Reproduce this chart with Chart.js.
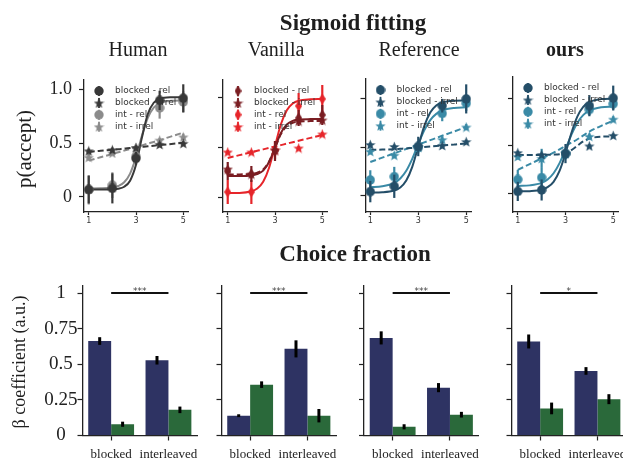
<!DOCTYPE html>
<html><head><meta charset="utf-8">
<script src="https://cdn.jsdelivr.net/npm/chart.js@4.4.1/dist/chart.umd.min.js"></script>
<style>
html,body{margin:0;padding:0;background:#fff;}
#wrap{position:relative;width:623px;height:461px;overflow:hidden;background:#fff;}
#wrap canvas{position:absolute;left:0;top:0;}
.t{position:absolute;font-family:'Liberation Serif','Times New Roman',serif;color:#1e1e1e;white-space:nowrap;line-height:1;transform:translateX(-50%);}
.r{position:absolute;font-family:'Liberation Serif','Times New Roman',serif;color:#1e1e1e;white-space:nowrap;line-height:1;transform:translate(-50%,-50%) rotate(-90deg);}
</style></head>
<body>
<div id="wrap">
<canvas id="t0" width="700" height="461"></canvas>
<canvas id="t1" width="700" height="461"></canvas>
<canvas id="t2" width="700" height="461"></canvas>
<canvas id="t3" width="700" height="461"></canvas>
<canvas id="b0" width="700" height="461"></canvas>
<canvas id="b1" width="700" height="461"></canvas>
<canvas id="b2" width="700" height="461"></canvas>
<canvas id="b3" width="700" height="461"></canvas>
<div class="t" style="left:353px;top:11px;font-size:23px;font-weight:bold;">Sigmoid fitting</div>
<div class="t" style="left:138px;top:39px;font-size:20px;">Human</div>
<div class="t" style="left:276px;top:39px;font-size:20px;">Vanilla</div>
<div class="t" style="left:419px;top:39px;font-size:20px;">Reference</div>
<div class="t" style="left:565px;top:39px;font-size:20px;font-weight:bold;">ours</div>
<div class="t" style="left:355px;top:242px;font-size:23px;font-weight:bold;">Choice fraction</div>
<div class="r" style="left:24px;top:149px;font-size:21px;">p(accept)</div>
<div class="r" style="left:19px;top:362px;font-size:18px;">β coefficient (a.u.)</div>
</div>
<script>
// ---------------- data ----------------
const seriesLabels = ['blocked - rel', 'blocked - irrel', 'int - rel', 'int - irrel'];
const levels = [1, 2, 3, 4, 5];
const fitX = [1, 1.5, 2, 2.25, 2.5, 2.75, 3, 3.25, 3.5, 3.75, 4, 4.5, 5];
const topXTicks = [1, 3, 5];
const topYTicks = [0, 0.5, 1.0];
const topYTickLabels = ['0', '0.5', '1.0'];

// Human
const humanBlockedRel = [0.07, 0.08, 0.36, 0.90, 0.92];
const humanBlockedRelErr = [0.13, 0.14, 0.06, 0.09, 0.13];
const humanBlockedIrrel = [0.43, 0.44, 0.46, 0.49, 0.50];
const humanBlockedIrrelErr = [0.02, 0.02, 0.02, 0.02, 0.02];
const humanIntRel = [0.065, 0.11, 0.38, 0.83, 0.885];
const humanIntRelErr = [0.135, 0.12, 0.07, 0.10, 0.10];
const humanIntIrrel = [0.37, 0.41, 0.46, 0.53, 0.56];
const humanIntIrrelErr = [0.03, 0.02, 0.02, 0.02, 0.03];
const humanBlockedRelFit = [0.07, 0.07, 0.072, 0.077, 0.095, 0.152, 0.30, 0.553, 0.773, 0.878, 0.915, 0.929, 0.93];
const humanBlockedIrrelFit = [0.42, 0.43, 0.44, 0.445, 0.451, 0.456, 0.462, 0.467, 0.472, 0.478, 0.483, 0.494, 0.505];
const humanIntRelFit = [0.08, 0.081, 0.088, 0.102, 0.137, 0.218, 0.371, 0.571, 0.738, 0.832, 0.874, 0.896, 0.90];
const humanIntIrrelFit = [0.34, 0.37, 0.40, 0.416, 0.432, 0.448, 0.465, 0.481, 0.497, 0.513, 0.53, 0.565, 0.60];

// Vanilla
const vanillaBlockedRel = [0.26, 0.23, 0.46, 0.79, 0.82];
const vanillaBlockedRelErr = [0.09, 0.08, 0.10, 0.08, 0.10];
const vanillaBlockedIrrel = [0.28, 0.23, 0.47, 0.76, 0.77];
const vanillaBlockedIrrelErr = [0.02, 0.02, 0.02, 0.02, 0.02];
const vanillaIntRel = [0.05, 0.05, 0.47, 0.91, 0.98];
const vanillaIntRelErr = [0.12, 0.12, 0.09, 0.13, 0.14];
const vanillaIntIrrel = [0.45, 0.45, 0.47, 0.49, 0.63];
const vanillaIntIrrelErr = [0.02, 0.02, 0.02, 0.02, 0.02];
const vanillaBlockedRelFit = [0.21, 0.21, 0.215, 0.229, 0.264, 0.35, 0.495, 0.64, 0.726, 0.761, 0.775, 0.779, 0.78];
const vanillaBlockedIrrelFit = [0.225, 0.226, 0.231, 0.243, 0.276, 0.356, 0.49, 0.629, 0.709, 0.742, 0.755, 0.759, 0.76];
const vanillaIntRelFit = [0.04, 0.041, 0.057, 0.085, 0.152, 0.293, 0.51, 0.727, 0.868, 0.935, 0.963, 0.977, 0.98];
const vanillaIntIrrelFit = [0.39, 0.419, 0.448, 0.462, 0.476, 0.491, 0.505, 0.519, 0.534, 0.548, 0.563, 0.591, 0.62];

// Reference
const referenceBlockedRel = [0.045, 0.10, 0.51, 0.93, 1.0];
const referenceBlockedRelErr = [0.11, 0.12, 0.10, 0.07, 0.15];
const referenceBlockedIrrel = [0.53, 0.51, 0.51, 0.52, 0.56];
const referenceBlockedIrrelErr = [0.02, 0.02, 0.02, 0.02, 0.02];
const referenceIntRel = [0.165, 0.20, 0.50, 0.85, 0.955];
const referenceIntRelErr = [0.10, 0.10, 0.06, 0.08, 0.08];
const referenceIntIrrel = [0.46, 0.42, 0.50, 0.58, 0.71];
const referenceIntIrrelErr = [0.03, 0.03, 0.03, 0.03, 0.03];
const referenceBlockedRelFit = [0.035, 0.038, 0.056, 0.087, 0.159, 0.30, 0.51, 0.72, 0.861, 0.933, 0.964, 0.982, 0.985];
const referenceBlockedIrrelFit = [0.475, 0.478, 0.482, 0.486, 0.49, 0.495, 0.50, 0.505, 0.51, 0.515, 0.52, 0.53, 0.54];
const referenceIntRelFit = [0.092, 0.10, 0.135, 0.18, 0.26, 0.383, 0.533, 0.676, 0.782, 0.846, 0.881, 0.907, 0.913];
const referenceIntIrrelFit = [0.35, 0.395, 0.44, 0.462, 0.485, 0.507, 0.53, 0.552, 0.575, 0.597, 0.62, 0.665, 0.71];

// ours
const oursBlockedRel = [0.025, 0.04, 0.42, 0.92, 1.0];
const oursBlockedRelErr = [0.10, 0.11, 0.10, 0.11, 0.13];
const oursBlockedIrrel = [0.43, 0.41, 0.42, 0.50, 0.61];
const oursBlockedIrrelErr = [0.02, 0.02, 0.02, 0.02, 0.02];
const oursIntRel = [0.15, 0.17, 0.42, 0.88, 0.94];
const oursIntRelErr = [0.10, 0.10, 0.06, 0.06, 0.06];
const oursIntIrrel = [0.39, 0.37, 0.43, 0.60, 0.78];
const oursIntIrrelErr = [0.03, 0.10, 0.03, 0.03, 0.03];
const oursBlockedRelFit = [0.025, 0.028, 0.043, 0.069, 0.125, 0.239, 0.424, 0.638, 0.809, 0.91, 0.959, 0.989, 0.994];
const oursBlockedIrrelFit = [0.405, 0.405, 0.406, 0.407, 0.409, 0.414, 0.428, 0.457, 0.503, 0.548, 0.577, 0.597, 0.60];
const oursIntRelFit = [0.082, 0.088, 0.114, 0.15, 0.215, 0.321, 0.466, 0.619, 0.743, 0.824, 0.869, 0.904, 0.912];
const oursIntIrrelFit = [0.25, 0.31, 0.37, 0.40, 0.43, 0.465, 0.50, 0.535, 0.57, 0.61, 0.65, 0.71, 0.765];

// Choice fraction (beta coefficients)
const barCategories = ['blocked', 'interleaved'];
const barYTicks = [0, 0.25, 0.5, 0.75, 1];
const barYTickLabels = ['0', '0.25', '0.5', '0.75', '1'];
const sigLabels = ['***', '***', '***', '*'];
const humanBetaRel = [0.663, 0.528];
const humanBetaRelErr = [0.027, 0.03];
const humanBetaIrrel = [0.079, 0.18];
const humanBetaIrrelErr = [0.018, 0.023];
const vanillaBetaRel = [0.139, 0.608];
const vanillaBetaRelErr = [0.01, 0.06];
const vanillaBetaIrrel = [0.357, 0.139];
const vanillaBetaIrrelErr = [0.023, 0.047];
const referenceBetaRel = [0.685, 0.336];
const referenceBetaRelErr = [0.046, 0.032];
const referenceBetaIrrel = [0.061, 0.146];
const referenceBetaIrrelErr = [0.018, 0.02];
const oursBetaRel = [0.66, 0.453];
const oursBetaRelErr = [0.049, 0.027];
const oursBetaIrrel = [0.19, 0.255];
const oursBetaIrrelErr = [0.041, 0.035];

// ---------------- styling / layout ----------------
const CW = 700, CH = 461;
const AXC = '#222';
const BLUE = '#2e3363', GREEN = '#2a693a';
const topAreas = [
  {l: 84, r: 188, t: 80, b: 212, ymin: -0.14, ymax: 1.09},
  {l: 223, r: 327, t: 80, b: 212, ymin: -0.15, ymax: 1.17},
  {l: 365.5, r: 471, t: 79, b: 212, ymin: -0.165, ymax: 1.205},
  {l: 513, r: 618, t: 77, b: 212, ymin: -0.19, ymax: 1.22}
];
const botLefts = [82.5, 221.5, 364, 511.5];
const BOT_W = 114.6, BOT_T = 285.9, BOT_B = 435.5;

function makeStar(color, size) {
  const c = document.createElement('canvas'); c.width = size; c.height = size;
  const g = c.getContext('2d'); g.fillStyle = color; g.beginPath();
  const cx = size / 2, cy = size / 2 + 0.6, R = size / 2, r = R * 0.42;
  for (let i = 0; i < 10; i++) {
    const ang = -Math.PI / 2 + i * Math.PI / 5; const rad = i % 2 ? r : R;
    g.lineTo(cx + rad * Math.cos(ang), cy + rad * Math.sin(ang));
  }
  g.closePath(); g.fill(); return c;
}
function makeDiamond(color, w, h) {
  const c = document.createElement('canvas'); c.width = w; c.height = h;
  const g = c.getContext('2d'); g.fillStyle = color; g.beginPath();
  g.moveTo(w / 2, 0); g.lineTo(w, h / 2); g.lineTo(w / 2, h); g.lineTo(0, h / 2); g.closePath(); g.fill();
  return c;
}
function makeCircle(color, size, radius) {
  const c = document.createElement('canvas'); c.width = size; c.height = size;
  const g = c.getContext('2d'); g.fillStyle = color; g.beginPath();
  g.arc(size / 2, size / 2, radius, 0, Math.PI * 2); g.fill(); return c;
}

const errorBarPlugin = {
  id: 'errbars',
  beforeDatasetDraw(chart, args) { drawErr(chart, args, false); },
  afterDatasetDraw(chart, args) { drawErr(chart, args, true); }
};
function drawErr(chart, args, after) {
  const ds = chart.data.datasets[args.index];
  if (!ds.errors || !!ds.errAfter !== after) return;
  const ys = chart.scales.y, ctx = chart.ctx;
  ctx.save();
  ctx.strokeStyle = ds.errColor; ctx.lineWidth = ds.errWidth; ctx.lineCap = 'butt';
  args.meta.data.forEach((el, i) => {
    const raw = ds.data[i]; const v = typeof raw === 'object' ? raw.y : raw; const e = ds.errors[i];
    ctx.beginPath();
    ctx.moveTo(el.x, ys.getPixelForValue(v - e));
    ctx.lineTo(el.x, ys.getPixelForValue(v + e));
    ctx.stroke();
  });
  ctx.restore();
}

const miniLegend = {
  id: 'miniLegend',
  afterDatasetsDraw(chart, args, opts) {
    if (!opts || !opts.items) return;
    const ctx = chart.ctx, a = chart.chartArea;
    ctx.save();
    opts.items.forEach((it, i) => {
      const y = a.top + 11 + i * 11.9;
      const mx = a.left + 15;
      ctx.strokeStyle = it.color; ctx.lineWidth = 1.8;
      ctx.beginPath(); ctx.moveTo(mx, y - 5); ctx.lineTo(mx, y + 5); ctx.stroke();
      ctx.drawImage(it.img, mx - it.img.width / 2, y - it.img.height / 2);
      ctx.fillStyle = '#333'; ctx.font = '9px "DejaVu Sans"';
      ctx.textAlign = 'left'; ctx.textBaseline = 'middle';
      ctx.fillText(it.label, a.left + 31, y);
    });
    ctx.restore();
  }
};

const sigPlugin = {
  id: 'sig',
  afterDatasetsDraw(chart, args, opts) {
    if (!opts || !opts.text) return;
    const ctx = chart.ctx, xs = chart.scales.x, ys = chart.scales.y;
    const x0 = xs.getPixelForValue(0), x1 = xs.getPixelForValue(1), y = ys.getPixelForValue(1.0);
    ctx.save();
    ctx.strokeStyle = '#111'; ctx.lineWidth = 2;
    ctx.beginPath(); ctx.moveTo(x0, y); ctx.lineTo(x1, y); ctx.stroke();
    ctx.fillStyle = '#444'; ctx.font = '9px "DejaVu Sans"'; ctx.textAlign = 'center'; ctx.textBaseline = 'alphabetic';
    ctx.fillText(opts.text, (x0 + x1) / 2, y + 0.5);
    ctx.restore();
  }
};

function axisGrid(len) {
  return {display: true, drawOnChartArea: false, drawTicks: true, tickLength: len, tickColor: AXC, tickWidth: 1.2, offset: false};
}
const axisBorder = {display: true, color: AXC, width: 1.3};

function buildTop(idx, series, showYLabels) {
  const a = topAreas[idx];
  const datasets = [];
  series.forEach(s => {
    datasets.push({
      type: 'line', data: levels.map((x, i) => ({x: x, y: s.pts[i]})),
      errors: s.err, errColor: s.color, errWidth: 2.2,
      showLine: false, pointStyle: s.img, pointRadius: 4, pointHoverRadius: 4,
      borderColor: s.color, backgroundColor: s.color, order: 0, clip: false
    });
  });
  series.forEach(s => {
    datasets.push({
      type: 'line', data: fitX.map((x, i) => ({x: x, y: s.fit[i]})),
      borderColor: s.color, borderWidth: 2, borderDash: s.dash ? [6, 3] : [],
      pointRadius: 0, cubicInterpolationMode: 'monotone', fill: false, order: 1, clip: false
    });
  });
  const WY = 40, HX = 24;
  new Chart(document.getElementById('t' + idx), {
    type: 'line',
    data: {datasets: datasets},
    options: {
      responsive: false, animation: false, devicePixelRatio: 1, events: [],
      layout: {padding: {left: a.l - WY, right: CW - a.r, top: a.t, bottom: CH - a.b - HX}},
      plugins: {legend: {display: false}, tooltip: {enabled: false},
        miniLegend: {items: series.map(s => ({label: s.label, color: s.color, img: s.img}))}},
      scales: {
        x: {type: 'linear', min: 0.8, max: 5.2,
          afterBuildTicks: s => { s.ticks = topXTicks.map(v => ({value: v})); },
          afterFit: s => { s.height = HX; },
          ticks: {callback: v => String(v), font: {family: 'DejaVu Sans', size: 8}, color: '#333', padding: 1, maxRotation: 0, autoSkip: false},
          grid: axisGrid(3), border: axisBorder},
        y: {type: 'linear', min: a.ymin, max: a.ymax,
          afterBuildTicks: s => { s.ticks = topYTicks.map(v => ({value: v})); },
          afterFit: s => { s.width = WY; },
          ticks: {callback: (v, i) => showYLabels ? topYTickLabels[i] : '', font: {family: 'Liberation Serif', size: 18}, color: '#222', padding: 7, autoSkip: false},
          grid: axisGrid(5), border: axisBorder}
      }
    },
    plugins: [errorBarPlugin, miniLegend]
  });
}

function buildBottom(idx, rel, relErr, irrel, irrelErr, showYLabels) {
  const l = botLefts[idx], r = l + BOT_W;
  const WY = 50, HX = 30;
  new Chart(document.getElementById('b' + idx), {
    type: 'bar',
    data: {labels: barCategories, datasets: [
      {data: rel, backgroundColor: BLUE, errors: relErr, errColor: '#000', errWidth: 3, errAfter: true,
        categoryPercentage: 0.8, barPercentage: 1.0, borderWidth: 0},
      {data: irrel, backgroundColor: GREEN, errors: irrelErr, errColor: '#000', errWidth: 3, errAfter: true,
        categoryPercentage: 0.8, barPercentage: 1.0, borderWidth: 0}
    ]},
    options: {
      responsive: false, animation: false, devicePixelRatio: 1, events: [],
      layout: {padding: {left: l - WY, right: CW - r, top: BOT_T, bottom: CH - BOT_B - HX}},
      plugins: {legend: {display: false}, tooltip: {enabled: false}, sig: {text: sigLabels[idx]}},
      scales: {
        x: {type: 'category', offset: true,
          afterFit: s => { s.height = HX; },
          ticks: {font: {family: 'Liberation Serif', size: 13}, color: '#222', padding: 6, maxRotation: 0, autoSkip: false},
          grid: axisGrid(5), border: axisBorder},
        y: {type: 'linear', min: 0, max: 1.05,
          afterBuildTicks: s => { s.ticks = barYTicks.map(v => ({value: v})); },
          afterFit: s => { s.width = WY; },
          ticks: {callback: (v, i) => showYLabels ? barYTickLabels[i] : '', font: {family: 'Liberation Serif', size: 19}, color: '#222', padding: 0, crossAlign: 'center', autoSkip: false},
          grid: axisGrid(5), border: axisBorder}
      }
    },
    plugins: [errorBarPlugin, sigPlugin]
  });
}

function mkSeries(cB, cI, relShape, pts, errs, fits) {
  const imgs = relShape === 'diamond'
    ? [makeDiamond(cB, 7, 11), makeStar(cB, 11), makeDiamond(cI, 7, 11), makeStar(cI, 11)]
    : [makeCircle(cB, 10, 4.7), makeStar(cB, 11), makeCircle(cI, 10, 4.7), makeStar(cI, 11)];
  const cols = [cB, cB, cI, cI];
  return seriesLabels.map((lab, k) => ({label: lab, color: cols[k], img: imgs[k], pts: pts[k], err: errs[k], fit: fits[k], dash: k % 2 === 1}));
}

buildTop(0, mkSeries('#383838', '#8b8b8b', 'circle',
  [humanBlockedRel, humanBlockedIrrel, humanIntRel, humanIntIrrel],
  [humanBlockedRelErr, humanBlockedIrrelErr, humanIntRelErr, humanIntIrrelErr],
  [humanBlockedRelFit, humanBlockedIrrelFit, humanIntRelFit, humanIntIrrelFit]), true);
buildTop(1, mkSeries('#7a1d22', '#e6252a', 'diamond',
  [vanillaBlockedRel, vanillaBlockedIrrel, vanillaIntRel, vanillaIntIrrel],
  [vanillaBlockedRelErr, vanillaBlockedIrrelErr, vanillaIntRelErr, vanillaIntIrrelErr],
  [vanillaBlockedRelFit, vanillaBlockedIrrelFit, vanillaIntRelFit, vanillaIntIrrelFit]), false);
buildTop(2, mkSeries('#244e68', '#3a8aa6', 'circle',
  [referenceBlockedRel, referenceBlockedIrrel, referenceIntRel, referenceIntIrrel],
  [referenceBlockedRelErr, referenceBlockedIrrelErr, referenceIntRelErr, referenceIntIrrelErr],
  [referenceBlockedRelFit, referenceBlockedIrrelFit, referenceIntRelFit, referenceIntIrrelFit]), false);
buildTop(3, mkSeries('#244e68', '#3a8aa6', 'circle',
  [oursBlockedRel, oursBlockedIrrel, oursIntRel, oursIntIrrel],
  [oursBlockedRelErr, oursBlockedIrrelErr, oursIntRelErr, oursIntIrrelErr],
  [oursBlockedRelFit, oursBlockedIrrelFit, oursIntRelFit, oursIntIrrelFit]), false);

buildBottom(0, humanBetaRel, humanBetaRelErr, humanBetaIrrel, humanBetaIrrelErr, true);
buildBottom(1, vanillaBetaRel, vanillaBetaRelErr, vanillaBetaIrrel, vanillaBetaIrrelErr, false);
buildBottom(2, referenceBetaRel, referenceBetaRelErr, referenceBetaIrrel, referenceBetaIrrelErr, false);
buildBottom(3, oursBetaRel, oursBetaRelErr, oursBetaIrrel, oursBetaIrrelErr, false);
</script>
</body></html>
